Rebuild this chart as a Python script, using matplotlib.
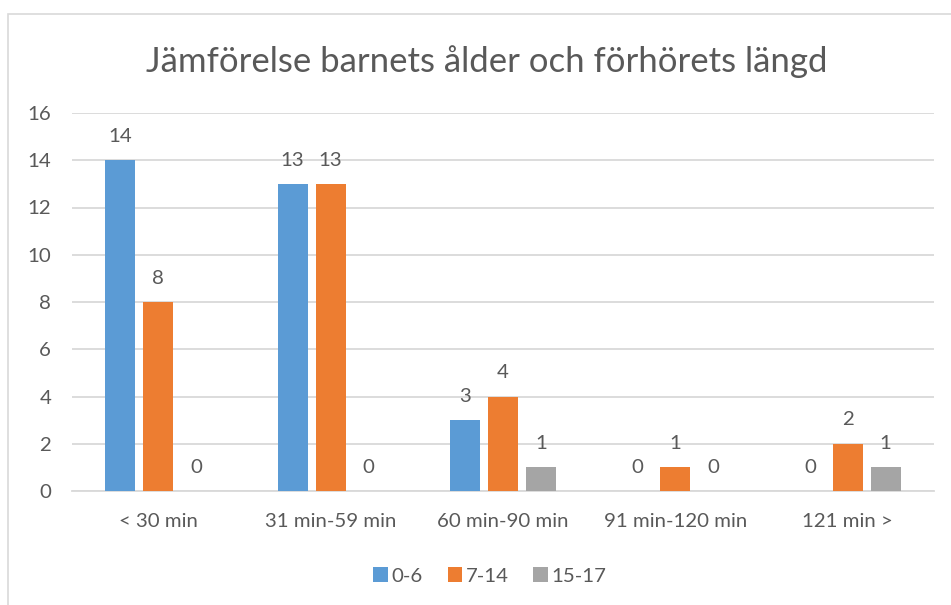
import numpy as np
import matplotlib.pyplot as plt
from matplotlib.patches import Rectangle

categories = ["< 30 min", "31 min-59 min", "60 min-90 min", "91 min-120 min", "121 min >"]
series_names = ["0-6", "7-14", "15-17"]
age_0_6 = [14, 13, 3, 0, 0]
age_7_14 = [8, 13, 4, 1, 2]
age_15_17 = [0, 0, 1, 0, 1]
yticks = [0, 2, 4, 6, 8, 10, 12, 14, 16]

colors = ["#5B9BD5", "#ED7D31", "#A5A5A5"]
text_col = "#595959"
grid_col = "#D9D9D9"

plt.rcParams['font.family'] = ['Lato', 'DejaVu Sans']

W, H = 951, 605
fig = plt.figure(figsize=(W / 100, H / 100), dpi=100)

# chart border (Excel chart area)
fig.patches.append(Rectangle((8 / W, -0.1), 1.2, 1 - 14 / H + 0.1,
                             transform=fig.transFigure, fill=False,
                             edgecolor=grid_col, linewidth=1.2))

ax = fig.add_axes([72 / W, 1 - 491 / H, (934 - 72) / W, (491 - 113) / H])

x = np.arange(len(categories))
offs = [-0.22, 0.0, 0.22]
for vals, name, col, o in zip([age_0_6, age_7_14, age_15_17], series_names, colors, offs):
    bars = ax.bar(x + o, vals, width=0.175, color=col, label=name, zorder=3)
    ax.bar_label(bars, padding=11, fontsize=14.7, color=text_col)

ax.set_xlim(-0.5, len(categories) - 0.5)
ax.set_ylim(0, 16)
ax.set_yticks(yticks)
ax.set_xticks(x)
ax.set_xticklabels(categories)
ax.tick_params(axis='both', length=0, labelsize=14.7, labelcolor=text_col)
ax.tick_params(axis='y', pad=15)
ax.tick_params(axis='x', pad=16)
ax.grid(axis='y', color=grid_col, linewidth=1.3, zorder=0)
for s in ["top", "right", "left"]:
    ax.spines[s].set_visible(False)
ax.spines["bottom"].set_color(grid_col)
ax.spines["bottom"].set_linewidth(1.3)

fig.text(487 / W, 1 - 62 / H, "Jämförelse barnets ålder och förhörets längd",
         ha='center', va='center', fontsize=25, color=text_col)

fig.legend(loc='center', bbox_to_anchor=(490 / W, 1 - 576 / H), ncol=3,
           frameon=False, fontsize=14.7, labelcolor=text_col,
           handlelength=0.7, handleheight=0.7, handletextpad=0.2, columnspacing=1.2)

fig.savefig("out.png", dpi=100)
